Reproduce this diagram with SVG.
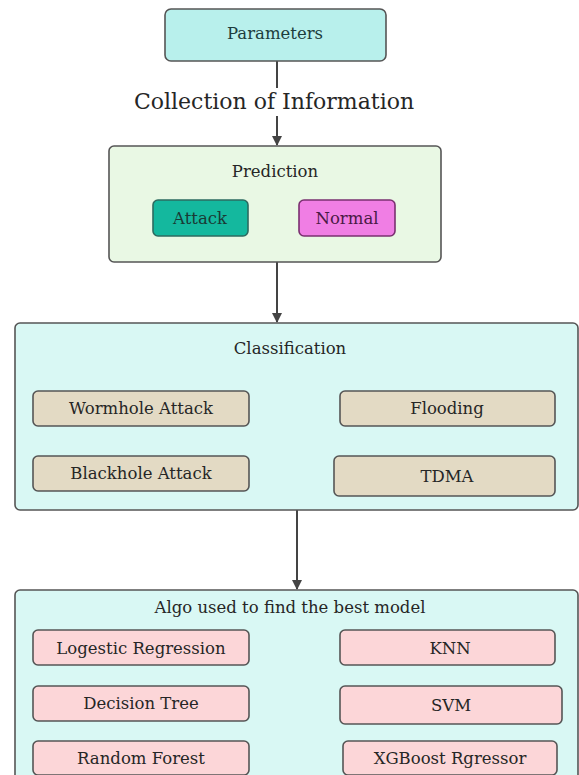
<svg xmlns="http://www.w3.org/2000/svg" width="579" height="775" viewBox="0 0 579 775">
<style>
text{font-family:"DejaVu Serif","Liberation Serif",serif;text-anchor:middle;dominant-baseline:central;fill:#262626}
.lbl{font-size:16.5px}
.box{stroke:#555;stroke-width:1.6}
.tan{fill:#e3dac4}
.pink{fill:#fcd6d8}
.edge{stroke:#444;stroke-width:2;fill:none}
.arr{marker-end:url(#ah)}
</style>
<defs>
<marker id="ah" viewBox="0 0 10 10" refX="9" refY="5" markerWidth="5" markerHeight="5" orient="auto" markerUnits="strokeWidth">
<path d="M0,0 L10,5 L0,10 z" fill="#444"/>
</marker>
</defs>
<rect width="579" height="775" fill="#fff"/>
<g id="connectors">
<line class="edge" x1="277" y1="61" x2="277" y2="88"/>
<line class="edge arr" x1="277" y1="116" x2="277" y2="145"/>
<line class="edge arr" x1="277" y1="262" x2="277" y2="322"/>
<line class="edge arr" x1="297" y1="510" x2="297" y2="589"/>
<text x="274" y="101" style="font-size:22px">Collection of Information</text>
</g>
<g id="parameters">
<rect class="box" x="165" y="9" width="221" height="52" rx="6" fill="#b8f0ec"/>
<text class="lbl" x="275" y="33" style="fill:#1d3d3d">Parameters</text>
</g>
<g id="prediction">
<rect class="box" x="109" y="146" width="332" height="116" rx="5" fill="#e9f8e4"/>
<text class="lbl" x="275" y="171">Prediction</text>
<g id="attack">
<rect x="153" y="200" width="95" height="36" rx="5" fill="#14b89e" stroke="#2c6b60" stroke-width="1.6"/>
<text class="lbl" x="200" y="218" style="fill:#1a3a35">Attack</text>
</g>
<g id="normal">
<rect x="299" y="200" width="96" height="36" rx="5" fill="#f07ee4" stroke="#7a3070" stroke-width="1.6"/>
<text class="lbl" x="347" y="218" style="fill:#4a1a45">Normal</text>
</g>
</g>
<g id="classification">
<rect class="box" x="15" y="323" width="563" height="187" rx="5" fill="#d9f8f4"/>
<text class="lbl" x="290" y="348">Classification</text>
<g id="wormhole"><rect class="box tan" x="33" y="391" width="216" height="35" rx="5"/><text class="lbl" x="141" y="408">Wormhole Attack</text></g>
<g id="flooding"><rect class="box tan" x="340" y="391" width="215" height="35" rx="5"/><text class="lbl" x="447" y="408">Flooding</text></g>
<g id="blackhole"><rect class="box tan" x="33" y="456" width="216" height="35" rx="5"/><text class="lbl" x="141" y="473">Blackhole Attack</text></g>
<g id="tdma"><rect class="box tan" x="334" y="456" width="221" height="40" rx="5"/><text class="lbl" x="447" y="476">TDMA</text></g>
</g>
<g id="algo">
<rect class="box" x="15" y="590" width="563" height="190" rx="5" fill="#d9f8f4"/>
<text class="lbl" x="290" y="607">Algo used to find the best model</text>
<g id="logistic"><rect class="box pink" x="33" y="630" width="216" height="35" rx="5"/><text class="lbl" x="141" y="648">Logestic Regression</text></g>
<g id="knn"><rect class="box pink" x="340" y="630" width="215" height="35" rx="5"/><text class="lbl" x="450" y="648">KNN</text></g>
<g id="dtree"><rect class="box pink" x="33" y="686" width="216" height="35" rx="5"/><text class="lbl" x="141" y="703">Decision Tree</text></g>
<g id="svm"><rect class="box pink" x="340" y="686" width="222" height="38" rx="5"/><text class="lbl" x="451" y="705">SVM</text></g>
<g id="rforest"><rect class="box pink" x="33" y="741" width="216" height="34" rx="5"/><text class="lbl" x="141" y="758">Random Forest</text></g>
<g id="xgb"><rect class="box pink" x="343" y="741" width="214" height="34" rx="5"/><text class="lbl" x="450" y="758">XGBoost Rgressor</text></g>
</g>
</svg>
